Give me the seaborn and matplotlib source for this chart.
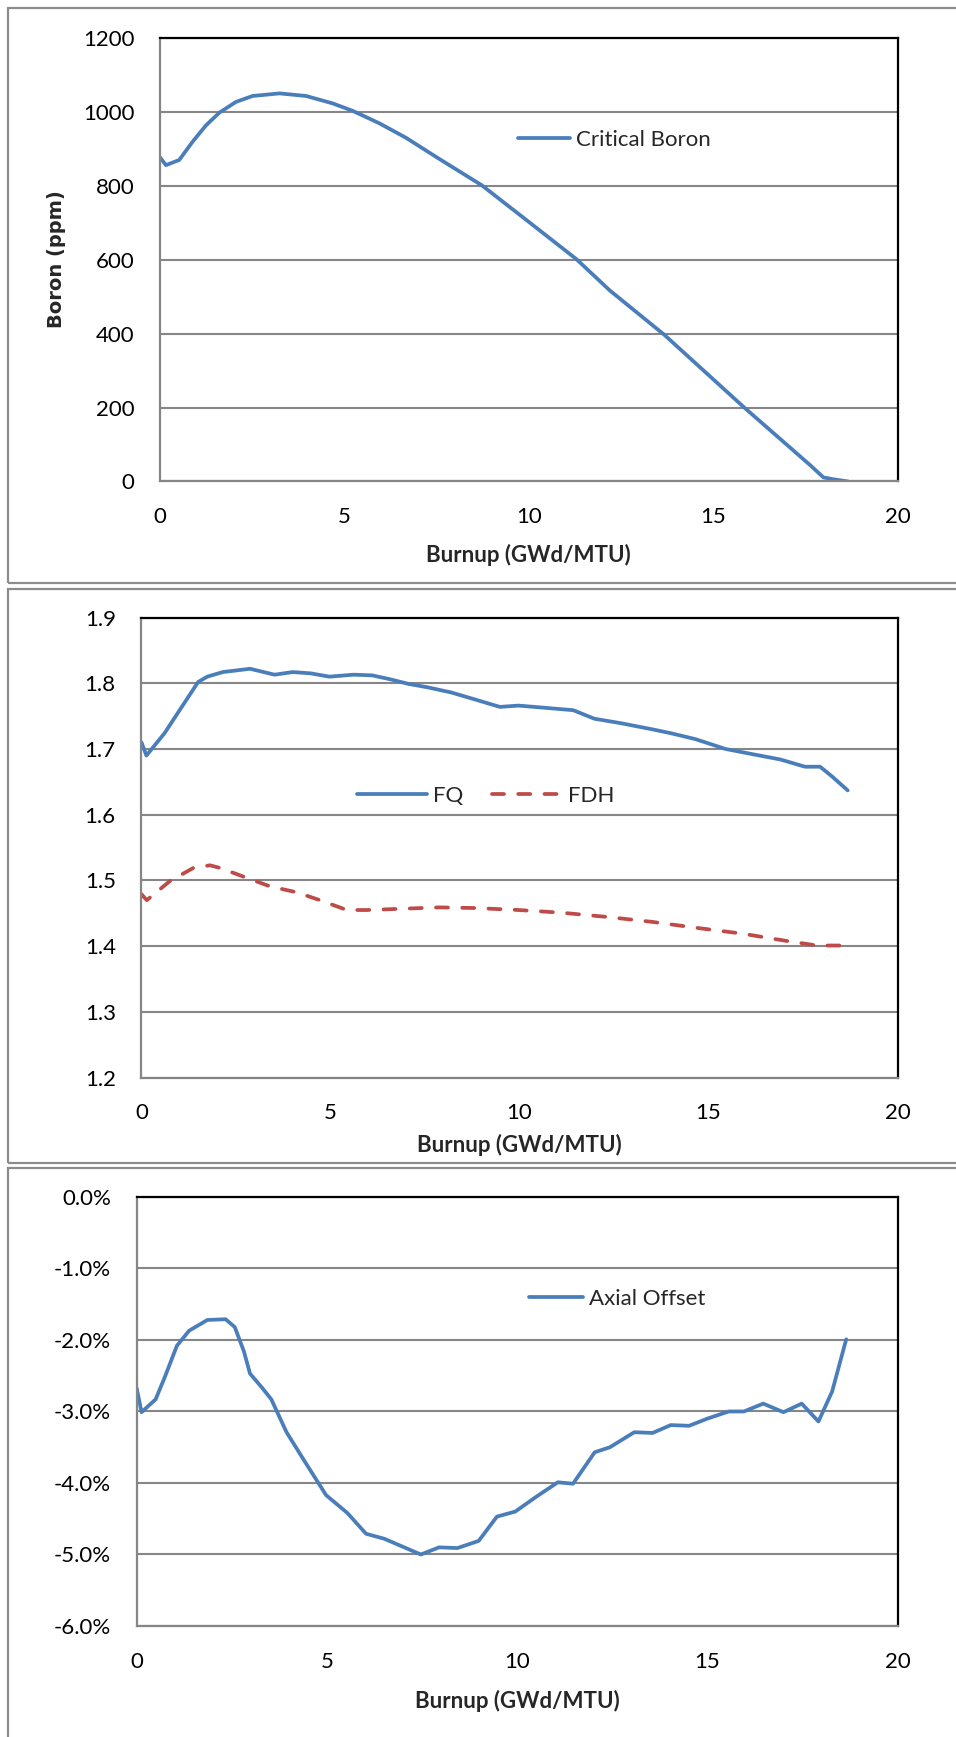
import matplotlib
matplotlib.use("Agg")
import matplotlib.pyplot as plt
import matplotlib.ticker as mticker
import seaborn as sns

# Critical boron vs burnup
burnup_b = [0, 0.16, 0.52, 0.88, 1.25, 1.61, 2.06, 2.51, 3.24, 3.96, 4.68, 5.22, 5.95,
            6.67, 7.57, 8.72, 9.88, 11.29, 12.2, 13.68, 15.83, 17.62, 17.99, 18.26, 18.66]
boron = [876, 855, 869, 918, 963, 997, 1026, 1042, 1049, 1042, 1022, 1002, 968,
         929, 872, 801, 711, 601, 516, 396, 201, 45, 11, 6, 0]

# Peaking factors
burnup_fq = [0, 0.13, 0.61, 1.10, 1.5, 1.74, 2.15, 2.87, 3.52, 4.0, 4.48, 4.97, 5.61, 6.1,
             6.58, 7.06, 7.55, 8.19, 8.84, 9.48, 9.97, 10.6, 11.42, 11.98, 12.7, 13.5, 14.0,
             14.65, 15.45, 16.26, 16.9, 17.55, 17.95, 18.27, 18.68]
fq = [1.710, 1.690, 1.724, 1.767, 1.802, 1.810, 1.817, 1.822, 1.813, 1.817, 1.815, 1.810,
      1.813, 1.812, 1.806, 1.799, 1.794, 1.786, 1.775, 1.764, 1.766, 1.763, 1.759, 1.746,
      1.739, 1.730, 1.724, 1.715, 1.700, 1.691, 1.684, 1.673, 1.673, 1.658, 1.637]
burnup_fdh = [0, 0.14, 0.75, 1.37, 1.81, 2.08, 2.78, 3.4, 4.1, 4.72, 5.43, 5.96, 6.93, 7.87,
              8.84, 9.97, 11.1, 12.4, 13.5, 14.8, 15.9, 17.06, 17.87, 18.68]
fdh = [1.479, 1.470, 1.499, 1.519, 1.523, 1.519, 1.504, 1.491, 1.482, 1.470, 1.455, 1.455,
       1.457, 1.459, 1.458, 1.455, 1.451, 1.444, 1.437, 1.427, 1.419, 1.408, 1.401, 1.401]

# Axial offset (%)
burnup_ao = [0, 0.13, 0.5, 0.74, 1.06, 1.38, 1.86, 2.34, 2.58, 2.82, 2.98, 3.3, 3.54, 3.94,
             4.42, 4.98, 5.54, 6.03, 6.51, 6.99, 7.47, 7.95, 8.43, 8.99, 9.47, 9.95, 10.51,
             11.07, 11.47, 12.04, 12.44, 13.08, 13.56, 14.04, 14.52, 15.0, 15.56, 15.96,
             16.47, 17.0, 17.48, 17.92, 18.28, 18.65]
axial_offset = [-2.67, -3.01, -2.83, -2.52, -2.08, -1.87, -1.72, -1.71, -1.82, -2.16, -2.47,
                -2.67, -2.83, -3.29, -3.70, -4.17, -4.42, -4.71, -4.78, -4.89, -5.00, -4.90,
                -4.91, -4.81, -4.47, -4.40, -4.19, -3.99, -4.01, -3.57, -3.50, -3.29, -3.30,
                -3.19, -3.20, -3.10, -3.00, -3.00, -2.89, -3.01, -2.89, -3.14, -2.72, -1.99]

x_ticks = [0, 5, 10, 15, 20]
x_label = "Burnup (GWd/MTU)"

sns.set_theme(style="white")
plt.rcParams["font.family"] = ["Lato", "DejaVu Sans"]
plt.rcParams["axes.unicode_minus"] = False
plt.rcParams["lines.solid_joinstyle"] = "round"
plt.rcParams["lines.solid_capstyle"] = "round"

BLUE = "#4A7EBB"
RED = "#BE4B48"
GRID = "#868686"
LW = 2.7

fig = plt.figure(figsize=(9.56, 17.37), dpi=100)

# panel frames like the Excel chart areas
for y0, y1 in [(583, 8), (1163, 589), (1800, 1168)]:
    fig.patches.append(plt.Rectangle((8 / 956, 1 - y0 / 1737), 1.2, (y0 - y1) / 1737,
                                     transform=fig.transFigure, fill=False,
                                     edgecolor="#8c8c8c", linewidth=1.6))

ax1 = fig.add_axes([0.1674, 0.7228, 0.7715, 0.2556])
ax2 = fig.add_axes([0.148, 0.3796, 0.7909, 0.2649])
ax3 = fig.add_axes([0.1429, 0.0639, 0.796, 0.2470])


def style(ax, ylo, yhi, step, xlab_y):
    ax.set_xlim(0, 20)
    ax.set_ylim(ylo, yhi)
    ax.set_xticks(x_ticks)
    ax.yaxis.set_major_locator(mticker.MultipleLocator(step))
    ax.grid(axis="y", color=GRID, linewidth=1.5)
    ax.grid(axis="x", visible=False)
    ax.set_axisbelow(True)
    ax.tick_params(length=0, pad=18.5, labelsize=16, labelcolor="black")
    for s in ["left", "bottom"]:
        ax.spines[s].set_color(GRID)
        ax.spines[s].set_linewidth(1.6)
    for s in ["top", "right"]:
        ax.spines[s].set_color("black")
        ax.spines[s].set_linewidth(1.6)
    ax.set_xlabel(x_label, fontsize=16, fontweight="bold")
    ax.xaxis.label.set_verticalalignment("center")
    ax.xaxis.set_label_coords(0.5, xlab_y)


# Panel 1
sns.lineplot(x=burnup_b, y=boron, ax=ax1, color=BLUE, linewidth=LW,
             sort=False, estimator=None, label="Critical Boron")
style(ax1, 0, 1200, 200, -0.1655)
ax1.set_ylabel("Boron (ppm)", fontsize=14, fontweight="bold", family="DejaVu Sans")
ax1.yaxis.label.set_verticalalignment("center")
ax1.yaxis.set_label_coords(-0.14, 0.5)
ax1.legend(loc="center left", bbox_to_anchor=(0.485, 0.769), frameon=False, fontsize=16,
           handlelength=2.35, handletextpad=0.27, borderpad=0, borderaxespad=0)

# Panel 2
sns.lineplot(x=burnup_fq, y=fq, ax=ax2, color=BLUE, linewidth=LW,
             sort=False, estimator=None, label="FQ")
sns.lineplot(x=burnup_fdh, y=fdh, ax=ax2, color=RED, linewidth=LW,
             sort=False, estimator=None, label="FDH")
ax2.lines[1].set_dashes((3.2, 3.8))
ax2.lines[1].set_dash_capstyle("round")
style(ax2, 1.2, 1.9, 0.1, -0.1465)
ax2.yaxis.set_major_formatter(mticker.FormatStrFormatter("%.1f"))
ax2.set_ylabel("")
leg2 = ax2.legend(loc="center left", bbox_to_anchor=(0.285, 0.612), frameon=False,
                  fontsize=16, ncol=2, handlelength=3.15, handletextpad=0.27,
                  columnspacing=1.3, borderpad=0, borderaxespad=0)
leg2.get_lines()[1].set_dash_capstyle("round")

# Panel 3
sns.lineplot(x=burnup_ao, y=axial_offset, ax=ax3, color=BLUE, linewidth=LW,
             sort=False, estimator=None, label="Axial Offset")
style(ax3, -6, 0, 1, -0.1748)
ax3.yaxis.set_major_formatter(mticker.PercentFormatter(xmax=100, decimals=1))
ax3.set_ylabel("")
ax3.legend(loc="center left", bbox_to_anchor=(0.516, 0.762), frameon=False, fontsize=16,
           handlelength=2.4, handletextpad=0.27, borderpad=0, borderaxespad=0)

fig.savefig("out.png", dpi=100)
